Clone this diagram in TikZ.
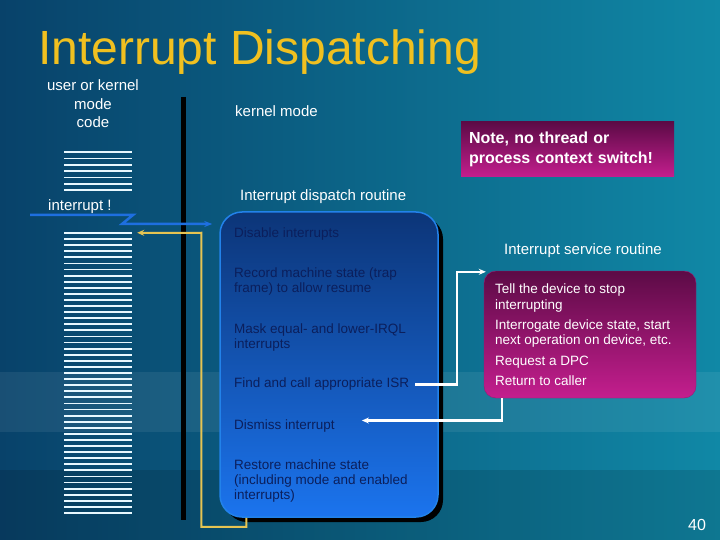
\documentclass[tikz,border=0pt]{standalone}
\usepackage{fontspec}
\setmainfont{Liberation Sans}
\usepackage{xcolor}
\usetikzlibrary{positioning,arrows.meta,shadows}

\definecolor{slidedark}{HTML}{08426A}
\definecolor{slidelight}{HTML}{1088A6}
\definecolor{titlegold}{HTML}{F0C020}
\definecolor{disptop}{HTML}{0C3578}
\definecolor{dispbot}{HTML}{1B74EE}
\definecolor{dispedge}{HTML}{2282EA}
\definecolor{disptext}{HTML}{0B1F5C}
\definecolor{isrtop}{HTML}{5C0B46}
\definecolor{isrbot}{HTML}{C41E8E}
\definecolor{irqblue}{HTML}{1E6FE0}
\definecolor{retgold}{HTML}{E6C452}
\definecolor{codewhite}{HTML}{E8F8FF}

\tikzset{
  label/.style={text=white,font=\fontsize{15}{18.5}\selectfont,inner sep=0pt},
  steptext/.style={text=disptext,font=\fontsize{13.5}{15}\selectfont,align=left,inner sep=0pt,anchor=base west},
  isrtext/.style={text=white,font=\fontsize{13.5}{15.5}\selectfont,align=left,inner sep=0pt,anchor=base west},
  wire/.style={draw=white,line width=2.4pt,-{Stealth[length=7pt,width=6pt]}},
  codeline/.style={draw=codewhite,line width=1.8pt}
}

\begin{document}
\begin{tikzpicture}[x=1pt,y=-1pt]
    % slide background
    \useasboundingbox (0,0) rectangle (720,540);
    \fill[left color=slidedark,right color=slidelight] (0,0) rectangle (720,540);
    \fill[white,opacity=0.07] (0,372) rectangle (720,432);
    \fill[black,opacity=0.12] (0,470) rectangle (720,540);

    % title
    \node[anchor=base west,inner sep=0pt,text=titlegold,font=\fontsize{48}{52}\selectfont] (title) at (38,65) {Interrupt Dispatching};

    % left column: code being run
    \node[label,align=center] (usercode) at (93,104) {user or kernel\\mode\\code};
    \node[minimum width=68,minimum height=38,inner sep=0pt] (codetop) at (98,171) {};
    \foreach \i in {0,...,6} {\draw[codeline] (64,152.3+6.3*\i) -- (132,152.3+6.3*\i);}
    \node[label,anchor=west] (irqlabel) at (48,207) {interrupt !};
    \node[minimum width=68,minimum height=280,inner sep=0pt] (code) at (98,373) {};
    \foreach \i in {0,...,46} {\draw[codeline] (64,233+6.087*\i) -- (132,233+6.087*\i);}

    % mode boundary
    \draw[black,line width=5pt] (183,97) -- (183,520);
    \node[label,anchor=west] (kmode) at (235,111) {kernel mode};

    % dispatch routine box (base of a multi-line node = its last line)
    \node[label,anchor=west] (disphead) at (240,197) {Interrupt dispatch routine};
    \node[draw=dispedge,line width=1.5pt,rounded corners=22pt,top color=disptop,bottom color=dispbot,
          minimum width=218,minimum height=305,
          general shadow={fill=black,shadow xshift=5pt,shadow yshift=-5pt}] (disp) at (329,364.5) {};
    \node[steptext] (disable) at (234,237) {Disable interrupts};
    \node[steptext] (record) at (234,292) {Record machine state (trap\\frame) to allow resume};
    \node[steptext] (mask) at (234,348) {Mask equal- and lower-IRQL\\interrupts};
    \node[steptext] (find) at (234,387) {Find and call appropriate ISR};
    \node[steptext] (dismiss) at (234,429) {Dismiss interrupt};
    \node[steptext] (restore) at (234,499) {Restore machine state\\(including mode and enabled\\interrupts)};

    % note
    \node[top color=isrtop,bottom color=isrbot,minimum width=213,minimum height=55,text width=197,
          align=left,text=white,font=\bfseries\fontsize{16}{20}\selectfont] (note) at (567.5,149.5)
          {Note, no thread or\\process context switch!};

    % service routine box
    \node[label,anchor=west] (isrhead) at (504,251) {Interrupt service routine};
    \node[draw=isrbot!80!black,rounded corners=12pt,top color=isrtop,bottom color=isrbot,
          minimum width=212,minimum height=127] (isrbox) at (590,334.5) {};
    \node[isrtext] (tell) at (495,309) {Tell the device to stop\\interrupting};
    \node[isrtext] (interro) at (495,344.5) {Interrogate device state, start\\next operation on device, etc.};
    \node[isrtext] (dpc) at (495,365) {Request a DPC};
    \node[isrtext] (ret) at (495,385) {Return to caller};

    % connectors
    \coordinate (irq) at (30,215);
    \draw[irqblue,line width=2.5pt,-{Stealth[length=8pt,width=6pt]}] (irq) -- ++(103,0) -- ++(-11,9)
        -- ([xshift=-7pt]disp.west |- 0,224);
    \draw[retgold,line width=2pt,-{Stealth[length=7pt,width=6pt]}] ([xshift=27pt]disp.south west)
        -- ++(0,9) -- ++(-45,0) -- ++(0,-294) -- ([xshift=5pt]code.north east);
    \draw[wire] ([xshift=6pt,yshift=-1pt]find.east) -- ++(42,0) |- ([xshift=2pt,yshift=-1pt]isrbox.north west);
    \draw[wire] ([xshift=18pt]isrbox.south west) |- ([xshift=27pt,yshift=5pt]dismiss.east);

    % slide number
    \node[text=white,font=\fontsize{16}{18}\selectfont] (pageno) at (697,525) {40};
\end{tikzpicture}
\end{document}
